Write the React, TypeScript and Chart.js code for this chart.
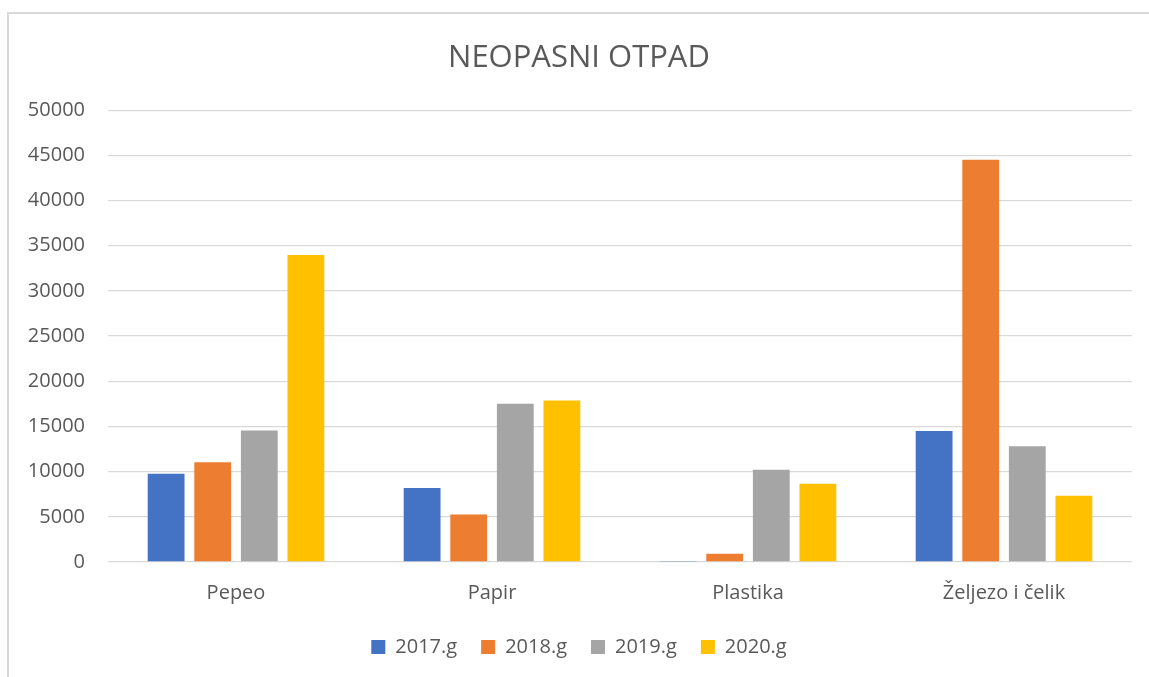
import React, { useEffect, useRef } from "react";
import { Chart, registerables } from "chart.js";

Chart.register(...registerables);

const categories = ["Pepeo", "Papir", "Plastika", "Željezo i čelik"];
const seriesNames = ["2017.g", "2018.g", "2019.g", "2020.g"];
const values2017 = [9780, 8180, 120, 14500];
const values2018 = [11030, 5270, 910, 44510];
const values2019 = [14550, 17500, 10220, 12800];
const values2020 = [33980, 17870, 8670, 7340];
const seriesColors = ["#4472C4", "#ED7D31", "#A5A5A5", "#FFC000"];
const titleText = "NEOPASNI OTPAD";

export default function App() {
  const ref = useRef<HTMLCanvasElement | null>(null);
  useEffect(() => {
    if (!ref.current) return;
    Chart.defaults.font.family = "'Open Sans', sans-serif";
    const allValues = [values2017, values2018, values2019, values2020];
    const chart = new Chart(ref.current, {
      type: "bar",
      data: {
        labels: categories,
        datasets: seriesNames.map((name, i) => ({
          label: name,
          data: allValues[i],
          backgroundColor: seriesColors[i],
          borderWidth: 0,
          categoryPercentage: 0.728,
          barPercentage: 0.79,
        })),
      },
      options: {
        animation: false,
        responsive: false,
        maintainAspectRatio: false,
        layout: { padding: { left: 17, right: 17, top: 0, bottom: 10 } },
        plugins: {
          title: {
            display: true,
            text: titleText,
            color: "#595959",
            font: { size: 31, weight: "normal" },
            padding: { top: 26, bottom: 33 },
          },
          legend: {
            position: "bottom",
            labels: {
              color: "#595959",
              font: { size: 20 },
              boxWidth: 14,
              boxHeight: 14,
              padding: 24,
            },
          },
          tooltip: { enabled: false },
        },
        scales: {
          x: {
            grid: { display: false, drawTicks: false },
            border: { display: false },
            ticks: { color: "#595959", font: { size: 20 }, padding: 19 },
            afterFit: (s: any) => {
              s.height = 51;
            },
          },
          y: {
            min: 0,
            max: 50000,
            ticks: {
              stepSize: 5000,
              color: "#595959",
              font: { size: 20 },
              padding: 23,
              callback: (v: any) => String(v),
            },
            grid: { color: "#D9D9D9", lineWidth: 1.3, drawTicks: false },
            border: { display: false },
            afterFit: (s: any) => {
              s.width = 82;
            },
          },
        },
      },
    });
    return () => chart.destroy();
  }, []);
  return (
    <div
      style={{
        position: "fixed",
        left: 7,
        top: 12,
        width: 1142,
        height: 665,
        borderLeft: "2px solid #D9D9D9",
        borderTop: "2px solid #D9D9D9",
        background: "#fff",
      }}
    >
      <canvas ref={ref} width={1140} height={663} style={{ display: "block" }} />
    </div>
  );
}
